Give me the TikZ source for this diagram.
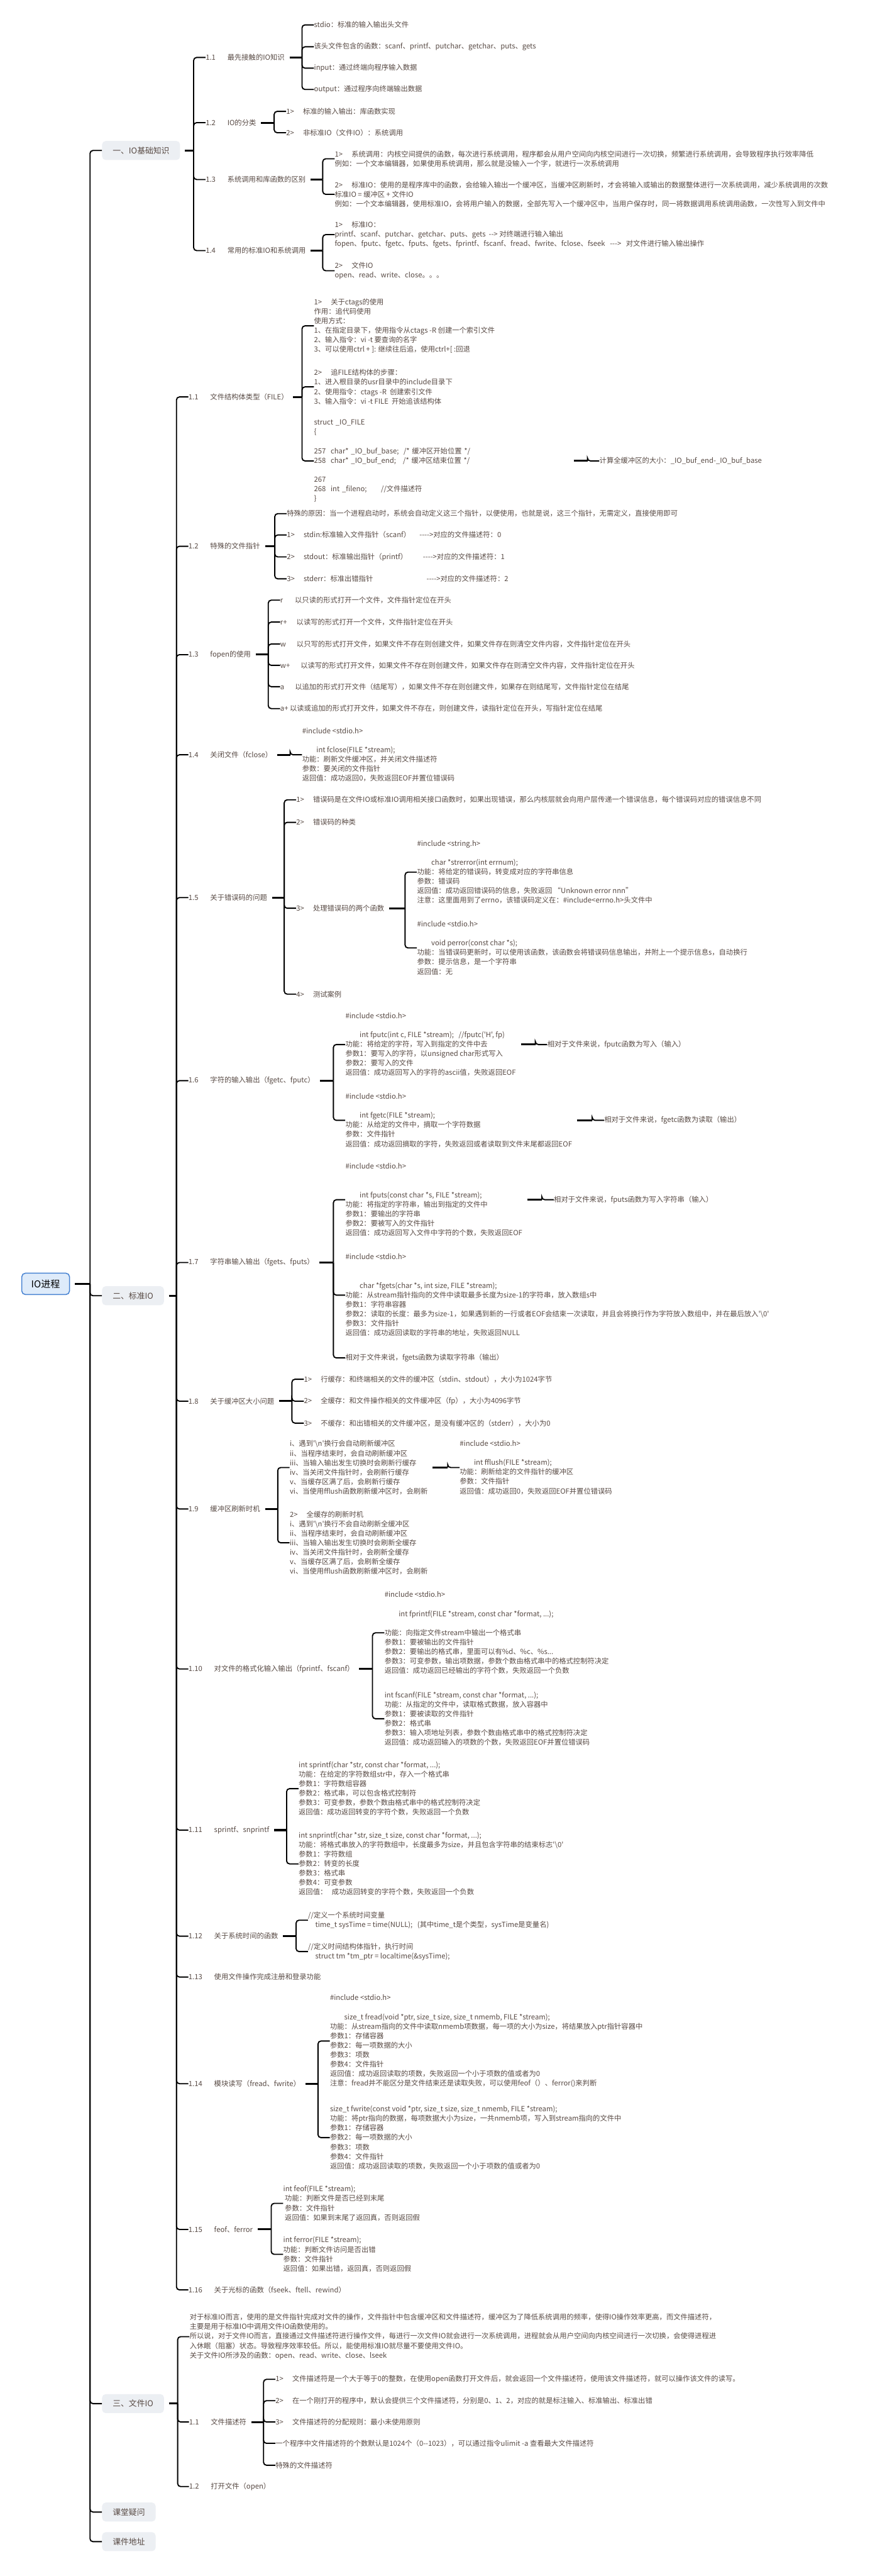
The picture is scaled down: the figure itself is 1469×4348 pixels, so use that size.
\documentclass[tikz,border=0pt]{standalone}
\usepackage{fontspec}
\setmainfont{Noto Sans CJK SC}[Ligatures=TeXOff]
\definecolor{ink}{RGB}{88,74,68}
\definecolor{rootfill}{RGB}{222,235,250}
\definecolor{rootline}{RGB}{70,130,210}
\definecolor{boxfill}{RGB}{236,239,243}
\newcommand{\mapfont}{\fontsize{6pt}{8pt}\selectfont}
\newcommand{\numgap}{\hspace{10pt}}
\newcommand{\itemgap}{\hspace{7.5pt}}
%% bracket from a parent to its children
\newcommand{\fork}[2]{%
  \foreach \c [count=\i] in {#2} {%
    \ifnum\i=1
      \coordinate (#1-t) at ([xshift=-10pt]\c.west);
      \coordinate (#1-k) at (#1-t |- #1.east);
    \fi
    \draw[arm] (#1-k) |- (\c.west);
  }%
  \draw[stub] (#1.east) -- (#1-k);
}
\begin{document}
\begin{tikzpicture}[x=0.5pt, y=-0.5pt,
  txt/.style={anchor=west, inner xsep=0pt, inner ysep=1pt, align=left, font=\mapfont, text=ink},
  lvone/.style={anchor=west, rectangle, fill=boxfill, rounded corners=3pt, inner xsep=9pt,
                minimum height=16pt, font=\fontsize{6.8pt}{8pt}\selectfont, text=ink},
  rootbox/.style={anchor=west, rectangle, draw=rootline, fill=rootfill, rounded corners=3pt,
                  line width=0.8pt, inner xsep=8pt, minimum height=18pt,
                  font=\fontsize{8pt}{9pt}\selectfont, text=black},
  arm/.style={line width=1pt, rounded corners=2.5pt},
  stub/.style={line width=1.6pt, shorten <=4pt}
]
\useasboundingbox (0,0) rectangle (1469,4348);
\fill[white] (0,0) rectangle (1469,4348);

%% root and first level
\node[rootbox] (root) at (36,2167) {IO进程};
\node[lvone] (one) at (172,254) {一、IO基础知识};
\node[lvone] (two) at (172,2187) {二、标准IO};
\node[lvone] (three) at (172,4057) {三、文件IO};
\node[lvone] (ask) at (172,4240) {课堂疑问};
\node[lvone] (addr) at (172,4290) {课件地址};

%% 一、IO基础知识
\node[txt] (n11) at (347,97) {1.1\numgap 最先接触的IO知识};
\node[txt] (n12) at (347,207) {1.2\numgap IO的分类};
\node[txt] (n13) at (347,303) {1.3\numgap 系统调用和库函数的区别};
\node[txt] (n14) at (347,423) {1.4\numgap 常用的标准IO和系统调用};
\node[txt] (c111) at (530,42) {stdio：标准的输入输出头文件};
\node[txt] (c112) at (530,79) {该头文件包含的函数：scanf、printf、putchar、getchar、puts、gets};
\node[txt] (c113) at (530,115) {input：通过终端向程序输入数据};
\node[txt] (c114) at (530,151) {output：通过程序向终端输出数据};
\node[txt] (c121) at (483,188) {1>\itemgap 标准的输入输出：库函数实现};
\node[txt] (c122) at (483,224) {2>\itemgap 非标准IO（文件IO）：系统调用};
\node[txt] (c131) at (565,268) {1>\itemgap 系统调用：内核空间提供的函数，每次进行系统调用，程序都会从用户空间向内核空间进行一次切换，频繁进行系统调用，会导致程序执行效率降低\\
  例如：一个文本编辑器，如果使用系统调用，那么就是没输入一个字，就进行一次系统调用};
\node[txt] (c132) at (565,328) {2>\itemgap 标准IO：使用的是程序库中的函数，会给输入输出一个缓冲区，当缓冲区刷新时，才会将输入或输出的数据整体进行一次系统调用，减少系统调用的次数\\
  标准IO = 缓冲区 + 文件IO\\
  例如：一个文本编辑器，使用标准IO，会将用户输入的数据，全部先写入一个缓冲区中，当用户保存时，同一将数据调用系统调用函数，一次性写入到文件中};
\node[txt] (c141) at (565,396) {1>\itemgap 标准IO：\\
  printf、scanf、putchar、getchar、puts、gets\ \ --> 对终端进行输入输出\\
  fopen、fputc、fgetc、fputs、fgets、fprintf、fscanf、fread、fwrite、fclose、fseek\ \ \ --->\ \ \ 对文件进行输入输出操作};
\node[txt] (c142) at (565,457) {2>\itemgap 文件IO\\ open、read、write、close。。。};

%% 二、标准IO
\node[txt] (n21) at (318,670) {1.1\numgap 文件结构体类型（FILE）};
\node[txt] (n22) at (318,922) {1.2\numgap 特殊的文件指针};
\node[txt] (n23) at (318,1105) {1.3\numgap fopen的使用};
\node[txt] (n24) at (318,1274) {1.4\numgap 关闭文件（fclose）};
\node[txt] (n25) at (318,1515) {1.5\numgap 关于错误码的问题};
\node[txt] (n26) at (318,1824) {1.6\numgap 字符的输入输出（fgetc、fputc）};
\node[txt] (n27) at (318,2131) {1.7\numgap 字符串输入输出（fgets、fputs）};
\node[txt] (n28) at (318,2365) {1.8\numgap 关于缓冲区大小问题};
\node[txt] (n29) at (318,2547) {1.9\numgap 缓冲区刷新时机};
\node[txt] (n210) at (318,2817) {1.10\numgap 对文件的格式化输入输出（fprintf、fscanf）};
\node[txt] (n211) at (318,3089) {1.11\numgap sprintf、snprintf};
\node[txt] (n212) at (318,3268) {1.12\numgap 关于系统时间的函数};
\node[txt] (n213) at (318,3337) {1.13\numgap 使用文件操作完成注册和登录功能};
\node[txt] (n214) at (318,3517) {1.14\numgap 模块读写（fread、fwrite）};
\node[txt] (n215) at (318,3763) {1.15\numgap feof、ferror};
\node[txt] (n216) at (318,3865) {1.16\numgap 关于光标的函数（fseek、ftell、rewind）};

%% 1.1 FILE
\node[txt] (c211) at (530,550) {1>\itemgap 关于ctags的使用\\ 作用：追代码使用\\ 使用方式：\\
  1、在指定目录下，使用指令从ctags -R 创建一个索引文件\\ 2、输入指令：vi -t 要查询的名字\\
  3、可以使用ctrl + ]: 继续往后追，使用ctrl+[ :回退};
\node[txt] (c212) at (530,653) {2>\itemgap 追FILE结构体的步骤：\\ 1、进入根目录的usr目录中的include目录下\\
  2、使用指令：ctags -R\ \ 创建索引文件\\ 3、输入指令：vi -t FILE\ \ 开始追该结构体};
\node[txt, text width=215pt] (c213) at (530,778) {struct \_IO\_FILE\\ \{\\[8pt]
  257\ \ char* \_IO\_buf\_base;\ \ /* 缓冲区开始位置 */\\ 258\ \ char* \_IO\_buf\_end;\ \ \ /* 缓冲区结束位置 */\\[8pt]
  267\\ 268\ \ int \_fileno;\qquad //文件描述符\\ \}};
\node[txt] (c213a) at (1012,778) {计算全缓冲区的大小：\_IO\_buf\_end-\_IO\_buf\_base};

%% 1.2 special pointers
\node[txt] (c221) at (484,867) {特殊的原因：当一个进程启动时，系统会自动定义这三个指针，以便使用，也就是说，这三个指针，无需定义，直接使用即可};
\node[txt] (c222) at (484,903) {\makebox[112pt][l]{1>\itemgap stdin:标准输入文件指针（scanf）}---->对应的文件描述符：0};
\node[txt] (c223) at (484,940) {\makebox[115pt][l]{2>\itemgap stdout：标准输出指针（printf）}---->对应的文件描述符：1};
\node[txt] (c224) at (484,977) {\makebox[118pt][l]{3>\itemgap stderr：标准出错指针}---->对应的文件描述符：2};

%% 1.3 fopen
\node[txt] (c231) at (473,1013) {r\hspace{10pt}以只读的形式打开一个文件，文件指针定位在开头};
\node[txt] (c232) at (473,1050) {r+\hspace{8pt}以读写的形式打开一个文件，文件指针定位在开头};
\node[txt] (c233) at (473,1087) {w\hspace{9pt}以只写的形式打开文件，如果文件不存在则创建文件，如果文件存在则清空文件内容，文件指针定位在开头};
\node[txt] (c234) at (473,1123) {w+\hspace{9pt}以读写的形式打开文件，如果文件不存在则创建文件，如果文件存在则清空文件内容，文件指针定位在开头};
\node[txt] (c235) at (473,1159) {a\hspace{9pt}以追加的形式打开文件（结尾写），如果文件不存在则创建文件，如果存在则结尾写，文件指针定位在结尾};
\node[txt] (c236) at (473,1196) {a+ 以读或追加的形式打开文件，如果文件不存在，则创建文件，读指针定位在开头，写指针定位在结尾};

%% 1.4 fclose
\node[txt] (c241) at (510,1274) {\#include <stdio.h>\\[8pt] 　　int fclose(FILE *stream);\\
  功能：刷新文件缓冲区，并关闭文件描述符\\ 参数：要关闭的文件指针\\ 返回值：成功返回0，失败返回EOF并置位错误码};

%% 1.5 errno
\node[txt] (c251) at (500,1350) {1>\itemgap 错误码是在文件IO或标准IO调用相关接口函数时，如果出现错误，那么内核层就会向用户层传递一个错误信息，每个错误码对应的错误信息不同};
\node[txt] (c252) at (500,1388) {2>\itemgap 错误码的种类};
\node[txt] (c253) at (500,1533) {3>\itemgap 处理错误码的两个函数};
\node[txt] (c254) at (500,1678) {4>\itemgap 测试案例};
\node[txt] (c253a) at (704,1472) {\#include <string.h>\\[8pt] 　　char *strerror(int errnum);\\
  功能：将给定的错误码，转变成对应的字符串信息\\ 参数：错误码\\
  返回值：成功返回错误码的信息，失败返回 “Unknown error nnn”\\
  注意：这里面用到了errno，该错误码定义在：\#include<errno.h>头文件中};
\node[txt] (c253b) at (704,1600) {\#include <stdio.h>\\[8pt] 　　void perror(const char *s);\\
  功能：当错误码更新时，可以使用该函数，该函数会将错误码信息输出，并附上一个提示信息s，自动换行\\
  参数：提示信息，是一个字符串\\ 返回值：无};

%% 1.6 fputc fgetc
\node[txt] (c261) at (583,1763) {\#include <stdio.h>\\[8pt] 　　int fputc(int c, FILE *stream);\ \ \ //fputc('H', fp)\\
  功能：将给定的字符，写入到指定的文件中去\\ 参数1：要写入的字符，以unsigned char形式写入\\
  参数2：要写入的文件\\ 返回值：成功返回写入的字符的ascii值，失败返回EOF};
\node[txt] (c262) at (583,1891) {\#include <stdio.h>\\[8pt] 　　int fgetc(FILE *stream);\\
  功能：从给定的文件中，摘取一个字符数据\\ 参数：文件指针\\
  返回值：成功返回摘取的字符，失败返回或者读取到文件末尾都返回EOF};
\node[txt] (c261a) at (924,1763) {相对于文件来说，fputc函数为写入（输入）};
\node[txt] (c262a) at (1020,1891) {相对于文件来说，fgetc函数为读取（输出）};

%% 1.7 fputs fgets
\node[txt] (c271) at (583,2025) {\#include <stdio.h>\\[16pt] 　　int fputs(const char *s, FILE *stream);\\
  功能：将指定的字符串，输出到指定的文件中\\ 参数1：要输出的字符串\\ 参数2：要被写入的文件指针\\
  返回值：成功返回写入文件中字符的个数，失败返回EOF};
\node[txt] (c272) at (583,2186) {\#include <stdio.h>\\[16pt] 　　char *fgets(char *s, int size, FILE *stream);\\
  功能：从stream指针指向的文件中读取最多长度为size-1的字符串，放入数组s中\\ 参数1：字符串容器\\
  参数2：读取的长度：最多为size-1，如果遇到新的一行或者EOF会结束一次读取，并且会将换行作为字符放入数组中，并在最后放入'\textbackslash 0'\\
  参数3：文件指针\\ 返回值：成功返回读取的字符串的地址，失败返回NULL};
\node[txt] (c273) at (583,2292) {相对于文件来说，fgets函数为读取字符串（输出）};
\node[txt] (c271a) at (935,2025) {相对于文件来说，fputs函数为写入字符串（输入）};

%% 1.8 buffer size
\node[txt] (c281) at (513,2328) {1>\itemgap 行缓存：和终端相关的文件的缓冲区（stdin、stdout），大小为1024字节};
\node[txt] (c282) at (513,2365) {2>\itemgap 全缓存：和文件操作相关的文件缓冲区（fp），大小为4096字节};
\node[txt] (c283) at (513,2402) {3>\itemgap 不缓存：和出错相关的文件缓冲区，是没有缓冲区的（stderr），大小为0};

%% 1.9 flushing
\node[txt] (c291) at (489,2477) {i、遇到'\textbackslash n'换行会自动刷新缓冲区\\ ii、当程序结束时，会自动刷新缓冲区\\
  iii、当输入输出发生切换时会刷新行缓存\\ iv、当关闭文件指针时，会刷新行缓存\\
  v、当缓存区满了后，会刷新行缓存\\ vi、当使用fflush函数刷新缓冲区时，会刷新};
\node[txt] (c292) at (489,2604) {2>\itemgap 全缓存的刷新时机\\ i、遇到'\textbackslash n'换行不会自动刷新全缓冲区\\
  ii、当程序结束时，会自动刷新缓冲区\\ iii、当输入输出发生切换时会刷新全缓存\\
  iv、当关闭文件指针时，会刷新全缓存\\ v、当缓存区满了后，会刷新全缓存\\ vi、当使用fflush函数刷新缓冲区时，会刷新};
\node[txt] (c291a) at (776,2477) {\#include <stdio.h>\\[8pt] 　　int fflush(FILE *stream);\\
  功能：刷新给定的文件指针的缓冲区\\ 参数：文件指针\\ 返回值：成功返回0，失败返回EOF并置位错误码};

%% 1.10 fprintf fscanf
\node[txt] (c2101) at (649,2756) {\#include <stdio.h>\\[8pt] 　　int fprintf(FILE *stream, const char *format, ...);\\[8pt]
  功能：向指定文件stream中输出一个格式串\\ 参数1：要被输出的文件指针\\
  参数2：要输出的格式串，里面可以有\%d、\%c、\%s...\\
  参数3：可变参数，输出项数据，参数个数由格式串中的格式控制符决定\\
  返回值：成功返回已经输出的字符个数，失败返回一个负数};
\node[txt] (c2102) at (649,2901) {int fscanf(FILE *stream, const char *format, ...);\\
  功能：从指定的文件中，读取格式数据，放入容器中\\ 参数1：要被读取的文件指针\\ 参数2：格式串\\
  参数3：输入项地址列表，参数个数由格式串中的格式控制符决定\\
  返回值：成功返回输入的项数的个数，失败返回EOF并置位错误码};

%% 1.11 sprintf snprintf
\node[txt] (c2111) at (504,3019) {int sprintf(char *str, const char *format, ...);\\
  功能：在给定的字符数组str中，存入一个格式串\\ 参数1：字符数组容器\\ 参数2：格式串，可以包含格式控制符\\
  参数3：可变参数，参数个数由格式串中的格式控制符决定\\ 返回值：成功返回转变的字符个数，失败返回一个负数};
\node[txt] (c2112) at (504,3146) {int snprintf(char *str, size\_t size, const char *format, ...);\\
  功能：将格式串放入的字符数组中，长度最多为size，并且包含字符串的结束标志'\textbackslash 0'\\
  参数1：字符数组\\ 参数2：转变的长度\\ 参数3：格式串\\ 参数4：可变参数\\
  返回值：\ \ \ 成功返回转变的字符个数，失败返回一个负数};

%% 1.12 time
\node[txt] (c2121) at (520,3241) {//定义一个系统时间变量\\
  　time\_t sysTime = time(NULL);\ \ \ (其中time\_t是个类型，sysTime是变量名)};
\node[txt] (c2122) at (520,3294) {//定义时间结构体指针，执行时间\\ 　struct tm *tm\_ptr = localtime(\&sysTime);};

%% 1.14 fread fwrite
\node[txt] (c2141) at (557,3445) {\#include <stdio.h>\\[8pt]
  　　size\_t fread(void *ptr, size\_t size, size\_t nmemb, FILE *stream);\\
  功能：从stream指向的文件中读取nmemb项数据，每一项的大小为size，将结果放入ptr指针容器中\\
  参数1：存储容器\\ 参数2：每一项数据的大小\\ 参数3：项数\\ 参数4：文件指针\\
  返回值：成功返回读取的项数，失败返回一个小于项数的值或者为0\\
  注意：fread并不能区分是文件结束还是读取失败，可以使用feof（）、ferror()来判断};
\node[txt] (c2142) at (557,3608) {size\_t fwrite(const void *ptr, size\_t size, size\_t nmemb, FILE *stream);\\
  功能：将ptr指向的数据，每项数据大小为size，一共nmemb项，写入到stream指向的文件中\\
  参数1：存储容器\\ 参数2：每一项数据的大小\\ 参数3：项数\\ 参数4：文件指针\\
  返回值：成功返回读取的项数，失败返回一个小于项数的值或者为0};

%% 1.15 feof ferror
\node[txt] (c2151) at (478,3719) {int feof(FILE *stream);\\ \ 功能：判断文件是否已经到末尾\\
  \ 参数：文件指针\\ \ 返回值：如果到末尾了返回真，否则返回假};
\node[txt] (c2152) at (478,3805) {int ferror(FILE *stream);\\ 功能：判断文件访问是否出错\\
  参数：文件指针\\ 返回值：如果出错，返回真，否则返回假};

%% 三、文件IO
\node[txt] (n30) at (320,3944) {对于标准IO而言，使用的是文件指针完成对文件的操作，文件指针中包含缓冲区和文件描述符，缓冲区为了降低系统调用的频率，使得IO操作效率更高，而文件描述符，\\
  主要是用于标准IO中调用文件IO函数使用的。\\
  所以说，对于文件IO而言，直接通过文件描述符进行操作文件，每进行一次文件IO就会进行一次系统调用，进程就会从用户空间向内核空间进行一次切换，会使得进程进\\
  入休眠（阻塞）状态。导致程序效率较低。所以，能使用标准IO就尽量不要使用文件IO。\\
  关于文件IO所涉及的函数：open、read、write、close、lseek};
\node[txt] (n31) at (319,4088) {1.1\numgap 文件描述符};
\node[txt] (n32) at (319,4197) {1.2\numgap 打开文件（open）};
\node[txt] (c311) at (465,4016) {1>\itemgap 文件描述符是一个大于等于0的整数，在使用open函数打开文件后，就会返回一个文件描述符，使用该文件描述符，就可以操作该文件的读写。};
\node[txt] (c312) at (465,4052) {2>\itemgap 在一个刚打开的程序中，默认会提供三个文件描述符，分别是0、1、2，对应的就是标注输入、标准输出、标准出错};
\node[txt] (c313) at (465,4088) {3>\itemgap 文件描述符的分配规则：最小未使用原则};
\node[txt] (c314) at (465,4124) {一个程序中文件描述符的个数默认是1024个（0--1023），可以通过指令ulimit -a 查看最大文件描述符};
\node[txt] (c315) at (465,4161) {特殊的文件描述符};

%% connectors
\fork{root}{one,two,three,ask,addr}
\fork{one}{n11,n12,n13,n14}
\fork{n11}{c111,c112,c113,c114}
\fork{n12}{c121,c122}
\fork{n13}{c131,c132}
\fork{n14}{c141,c142}
\fork{two}{n21,n22,n23,n24,n25,n26,n27,n28,n29,n210,n211,n212,n213,n214,n215,n216}
\fork{n21}{c211,c212,c213}
\fork{c213}{c213a}
\fork{n22}{c221,c222,c223,c224}
\fork{n23}{c231,c232,c233,c234,c235,c236}
\fork{n24}{c241}
\fork{n25}{c251,c252,c253,c254}
\fork{c253}{c253a,c253b}
\fork{n26}{c261,c262}
\fork{c261}{c261a}
\fork{c262}{c262a}
\fork{n27}{c271,c272,c273}
\fork{c271}{c271a}
\fork{n28}{c281,c282,c283}
\fork{n29}{c291,c292}
\fork{c291}{c291a}
\fork{n210}{c2101,c2102}
\fork{n211}{c2111,c2112}
\fork{n212}{c2121,c2122}
\fork{n214}{c2141,c2142}
\fork{n215}{c2151,c2152}
\fork{three}{n30,n31,n32}
\fork{n31}{c311,c312,c313,c314,c315}
\end{tikzpicture}
\end{document}
